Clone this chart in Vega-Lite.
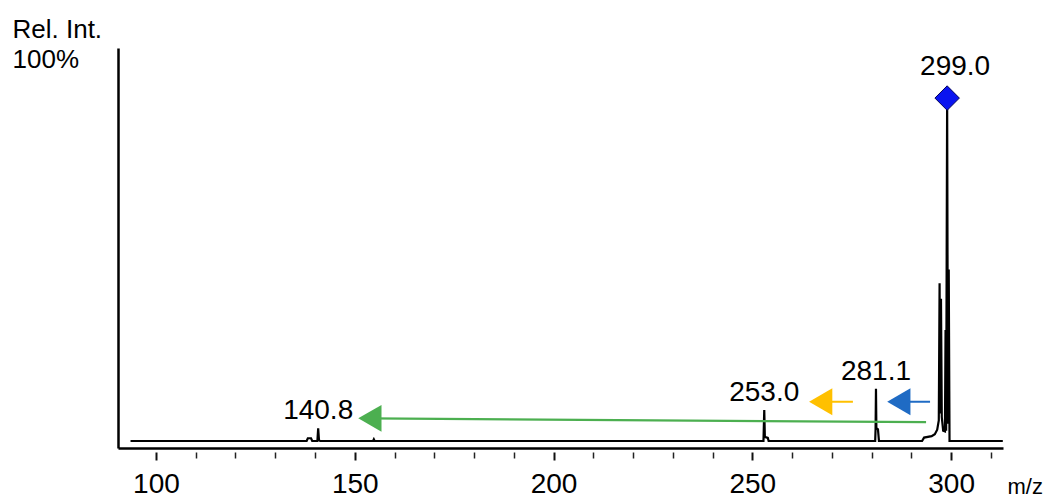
{
  "$schema": "https://vega.github.io/schema/vega-lite/v6.json",
  "width": 885,
  "height": 400,
  "autosize": {"type": "none"},
  "padding": {"left": 118, "top": 48, "right": 43, "bottom": 52},
  "background": "white",
  "config": {
    "view": {"stroke": null},
    "font": "Liberation Sans",
    "axis": {"grid": false, "labelFont": "Liberation Sans", "titleFont": "Liberation Sans", "labelColor": "black", "titleColor": "black"}
  },
  "datasets": {
    "spectrum": [
      {"mz": 93.6, "rel": 0},
      {"mz": 137.9, "rel": 0},
      {"mz": 138.2, "rel": 0.8},
      {"mz": 139.0, "rel": 0.8},
      {"mz": 139.3, "rel": 0},
      {"mz": 140.6, "rel": 0},
      {"mz": 140.8, "rel": 3.7},
      {"mz": 141.0, "rel": 0.3},
      {"mz": 141.3, "rel": 0},
      {"mz": 154.6, "rel": 0},
      {"mz": 154.8, "rel": 0.5},
      {"mz": 155.0, "rel": 0},
      {"mz": 252.8, "rel": 0},
      {"mz": 253.0, "rel": 9.0},
      {"mz": 253.15, "rel": 1.2},
      {"mz": 253.9, "rel": 0.9},
      {"mz": 254.1, "rel": 0},
      {"mz": 280.9, "rel": 0},
      {"mz": 281.0, "rel": 3.5},
      {"mz": 281.1, "rel": 15.2},
      {"mz": 281.2, "rel": 3.8},
      {"mz": 281.6, "rel": 3.4},
      {"mz": 281.85, "rel": 0},
      {"mz": 292.7, "rel": 0},
      {"mz": 293.2, "rel": 1.0},
      {"mz": 295.1, "rel": 1.4},
      {"mz": 295.9, "rel": 2.0},
      {"mz": 296.5, "rel": 3.3},
      {"mz": 296.9, "rel": 6},
      {"mz": 297.1, "rel": 46},
      {"mz": 297.25, "rel": 8},
      {"mz": 297.45, "rel": 41.5},
      {"mz": 297.65, "rel": 7},
      {"mz": 298.0, "rel": 3},
      {"mz": 298.45, "rel": 2.8},
      {"mz": 298.6, "rel": 32.4},
      {"mz": 298.75, "rel": 3},
      {"mz": 299.0, "rel": 100},
      {"mz": 299.2, "rel": 5},
      {"mz": 299.4, "rel": 50},
      {"mz": 299.6, "rel": 0},
      {"mz": 313.0, "rel": 0}
    ],
    "peaks": [
      {"mz": 140.8, "rel": 3.7},
      {"mz": 253.0, "rel": 9.0},
      {"mz": 281.1, "rel": 15.2},
      {"mz": 299.0, "rel": 100}
    ],
    "losses": [
      {"loss": "cleavage", "x_tail": 293.7, "y_tail": 5.5, "x_head": 153.8, "y_head": 6.6},
      {"loss": "CO", "x_tail": 275.3, "y_tail": 11.45, "x_head": 267.2, "y_head": 11.45},
      {"loss": "H2O", "x_tail": 294.7, "y_tail": 11.45, "x_head": 286.85, "y_head": 11.45}
    ]
  },
  "resolve": {"axis": {"x": "independent", "y": "independent"}},
  "layer": [
    {
      "data": {"name": "spectrum"},
      "mark": {"type": "line", "color": "black", "strokeWidth": 2.2, "interpolate": "linear"},
      "encoding": {
        "x": {
          "field": "mz", "type": "quantitative",
          "scale": {"domain": [90.45, 313.05], "nice": false, "zero": false},
          "axis": {"orient": "bottom", "domain": true, "domainColor": "black", "domainWidth": 2.5, "ticks": false, "labels": false, "title": null}
        },
        "y": {
          "field": "rel", "type": "quantitative",
          "scale": {"domain": [-2.04, 114.6], "nice": false, "zero": false},
          "axis": {
            "orient": "left", "domain": true, "domainColor": "black", "domainWidth": 2.5,
            "ticks": false, "labels": false,
            "title": ["Rel. Int.", "100%"],
            "titleAngle": 0, "titleAlign": "left", "titleBaseline": "alphabetic",
            "titleX": -106, "titleY": -11, "titleLineHeight": 30,
            "titleFontSize": 26, "titleFontWeight": "normal"
          }
        }
      }
    },
    {
      "data": {"name": "losses"},
      "mark": {"type": "rule", "strokeWidth": 2.2},
      "encoding": {
        "x": {
          "field": "x_tail", "type": "quantitative",
          "scale": {"domain": [90.45, 313.05], "nice": false, "zero": false},
          "axis": {
            "orient": "bottom", "offset": 4, "domain": false,
            "values": [110, 120, 130, 140, 160, 170, 180, 190, 210, 220, 230, 240, 260, 270, 280, 290, 310],
            "ticks": true, "tickSize": 6, "tickWidth": 1.5, "tickColor": "#222",
            "labels": false, "title": null
          }
        },
        "x2": {"field": "x_head"},
        "y": {"field": "y_tail", "type": "quantitative", "scale": {"domain": [-2.04, 114.6], "nice": false, "zero": false}, "axis": null},
        "y2": {"field": "y_head"},
        "color": {
          "field": "loss", "type": "nominal",
          "scale": {"domain": ["cleavage", "CO", "H2O"], "range": ["#4caf50", "#ffc000", "#1f6bc4"]},
          "legend": null
        }
      }
    },
    {
      "data": {"name": "losses"},
      "mark": {"type": "point", "shape": "triangle-left", "filled": true, "opacity": 1, "size": 720},
      "encoding": {
        "x": {
          "field": "x_head", "type": "quantitative",
          "scale": {"domain": [90.45, 313.05], "nice": false, "zero": false},
          "axis": {
            "orient": "bottom", "offset": 4, "domain": false,
            "values": [100, 150, 200, 250, 300],
            "ticks": true, "tickSize": 8, "tickWidth": 2, "tickColor": "#111",
            "labels": true, "labelFontSize": 28, "labelPadding": 10, "labelFlush": false, "labelOverlap": false,
            "title": "m/z", "titleFontSize": 22, "titleFontWeight": "normal",
            "titleAlign": "left", "titleBaseline": "alphabetic", "titleX": 889, "titleY": 41
          }
        },
        "y": {"field": "y_head", "type": "quantitative", "scale": {"domain": [-2.04, 114.6], "nice": false, "zero": false}, "axis": null},
        "color": {
          "field": "loss", "type": "nominal",
          "scale": {"domain": ["cleavage", "CO", "H2O"], "range": ["#4caf50", "#ffc000", "#1f6bc4"]},
          "legend": null
        }
      }
    },
    {
      "data": {"name": "peaks"},
      "transform": [{"filter": "datum.rel >= 100"}],
      "mark": {"type": "point", "shape": "diamond", "filled": true, "size": 600, "color": "#0a14f0", "stroke": "#00005a", "strokeWidth": 1, "opacity": 1},
      "encoding": {
        "x": {"field": "mz", "type": "quantitative", "scale": {"domain": [90.45, 313.05], "nice": false, "zero": false}, "axis": null},
        "y": {"field": "rel", "type": "quantitative", "scale": {"domain": [-2.04, 114.6], "nice": false, "zero": false}, "axis": null}
      }
    },
    {
      "data": {"name": "peaks"},
      "transform": [{"filter": "datum.rel < 100"}],
      "mark": {"type": "text", "fontSize": 28, "font": "Liberation Sans", "color": "black", "align": "center", "baseline": "alphabetic", "dy": -9},
      "encoding": {
        "x": {"field": "mz", "type": "quantitative", "scale": {"domain": [90.45, 313.05], "nice": false, "zero": false}, "axis": null},
        "y": {"field": "rel", "type": "quantitative", "scale": {"domain": [-2.04, 114.6], "nice": false, "zero": false}, "axis": null},
        "text": {"field": "mz", "type": "quantitative", "format": ".1f"}
      }
    },
    {
      "data": {"name": "peaks"},
      "transform": [{"filter": "datum.rel >= 100"}],
      "mark": {"type": "text", "fontSize": 28, "font": "Liberation Sans", "color": "black", "align": "center", "baseline": "alphabetic", "dx": 8, "dy": -23},
      "encoding": {
        "x": {"field": "mz", "type": "quantitative", "scale": {"domain": [90.45, 313.05], "nice": false, "zero": false}, "axis": null},
        "y": {"field": "rel", "type": "quantitative", "scale": {"domain": [-2.04, 114.6], "nice": false, "zero": false}, "axis": null},
        "text": {"field": "mz", "type": "quantitative", "format": ".1f"}
      }
    }
  ]
}
